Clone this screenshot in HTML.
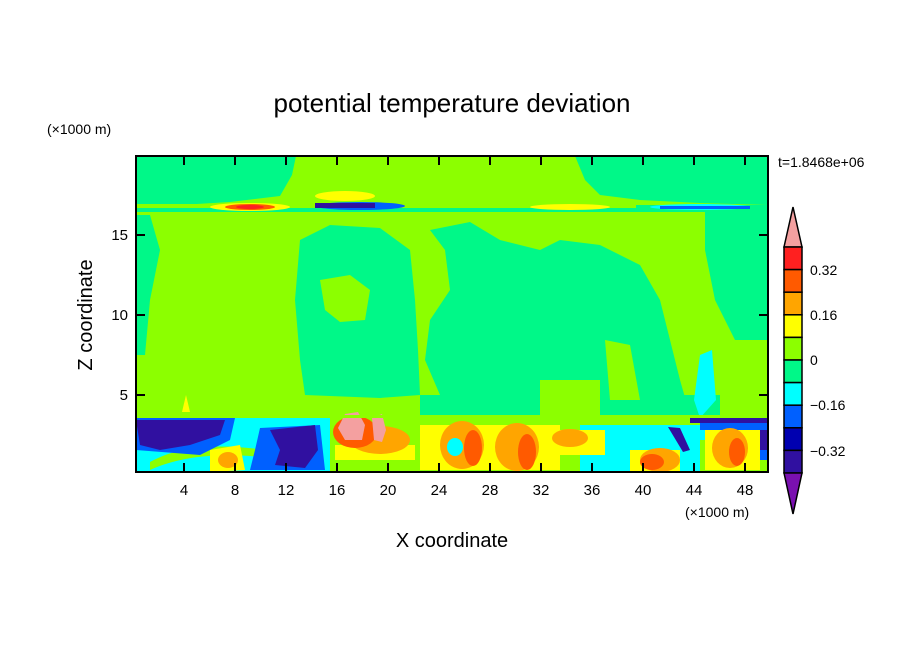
<!DOCTYPE html>
<html><head><style>
body{margin:0;background:#fff;}
svg text{font-family:"Liberation Sans",sans-serif;fill:#000;}
</style></head><body>
<svg width="904" height="654" viewBox="0 0 904 654" xmlns="http://www.w3.org/2000/svg">
<defs><clipPath id="c"><rect x="136" y="156" width="632" height="316"/></clipPath></defs>
<g clip-path="url(#c)">
<rect x="136" y="156" width="632" height="316" fill="#8cff00"/>
<g fill="#00f888">
<path d="M136 156 H296 L292 175 L280 196 L230 202 L180 205 H136Z"/>
<path d="M575 156 H768 V205 L700 203 L640 200 L600 195 L585 180Z"/>
<path d="M136 215 H150 L160 250 L150 300 L145 355 H136Z"/>
<path d="M300 240 L330 225 L380 228 L410 250 L415 300 L418 350 L420 395 L380 398 L330 396 L305 395 L300 360 L295 300Z"/>
<path d="M430 230 L470 222 L500 240 L540 250 L560 240 L600 245 L640 265 L660 300 L670 340 L680 380 L690 415 L560 415 L500 405 L440 395 L425 360 L430 320 L450 290 L445 250Z"/>
<path d="M420 395 H768 V418 H420Z"/>
<path d="M705 212 H768 V340 H735 L715 300 L705 250Z"/>
</g>
<g fill="#8cff00">
<path d="M320 280 L350 275 L370 290 L365 320 L340 322 L325 310Z"/>
<path d="M540 380 H600 V418 H540Z"/>
<path d="M605 340 L630 345 L640 400 L610 400Z"/>
<path d="M720 395 H768 V418 H720Z"/>
</g>
<path d="M700 355 L712 350 L716 400 L700 418 L694 400Z" fill="#00ffff"/>
<rect x="136" y="205" width="632" height="7" fill="#00f888"/>
<rect x="136" y="204" width="500" height="4" fill="#8cff00"/>
<ellipse cx="345" cy="196" rx="30" ry="5" fill="#ffff00"/>
<ellipse cx="250" cy="207" rx="40" ry="4" fill="#ffff00"/>
<ellipse cx="250" cy="207" rx="25" ry="3" fill="#ff5a00"/>
<ellipse cx="250" cy="207" rx="14" ry="2" fill="#ff2020"/>
<ellipse cx="360" cy="206" rx="45" ry="4" fill="#0060ff"/>
<rect x="315" y="203" width="60" height="5" fill="#3010a0"/>
<ellipse cx="570" cy="207" rx="40" ry="3" fill="#ffff00"/>
<ellipse cx="700" cy="207" rx="50" ry="3" fill="#00ffff"/>
<rect x="660" y="206" width="90" height="3" fill="#0060ff"/>
<!-- bottom layer -->
<rect x="136" y="418" width="632" height="54" fill="#8cff00"/>
<g fill="#00ffff">
<path d="M136 418 H330 V472 H136Z"/>
<path d="M580 425 H700 V472 H580Z"/>
<path d="M700 415 H768 V440 H700Z"/>
</g>
<path d="M150 462 C190 440 240 445 300 455 L300 462 C240 452 190 452 150 470Z" fill="#8cff00"/>
<g fill="#0060ff">
<path d="M136 418 H235 L230 440 L200 455 L136 450Z"/>
<path d="M260 428 L320 425 L325 470 L250 470 L255 450Z"/>
<path d="M700 415 H768 V430 H700Z"/>
<path d="M740 430 H768 V460 H745Z"/>
</g>
<g fill="#3010a0">
<path d="M136 420 H225 L220 435 L190 445 L160 450 L140 445Z"/>
<path d="M270 430 L315 425 L318 450 L305 468 L275 465 L280 450Z"/>
<path d="M668 427 L680 428 L690 450 L683 452Z"/>
<path d="M690 415 H768 V423 H690Z"/>
<path d="M755 430 H768 V450 H755Z"/>
</g>
<g fill="#ffff00">
<path d="M420 425 H560 V470 H420Z"/>
<path d="M560 430 H605 V455 H560Z"/>
<path d="M630 450 H680 V472 H630Z"/>
<path d="M705 430 H760 V470 H705Z"/>
<path d="M210 450 L240 445 L245 470 L210 472Z"/>
<path d="M335 445 H415 V460 H335Z"/>
</g>
<g fill="#ffa500">
<ellipse cx="462" cy="445" rx="22" ry="24"/>
<ellipse cx="517" cy="447" rx="22" ry="24"/>
<ellipse cx="570" cy="438" rx="18" ry="9"/>
<ellipse cx="660" cy="460" rx="20" ry="12"/>
<ellipse cx="730" cy="448" rx="18" ry="20"/>
<ellipse cx="228" cy="460" rx="10" ry="8"/>
<ellipse cx="380" cy="440" rx="30" ry="14"/>
</g>
<g fill="#ff5a00">
<ellipse cx="473" cy="448" rx="9" ry="18"/>
<ellipse cx="527" cy="452" rx="9" ry="18"/>
<ellipse cx="652" cy="462" rx="12" ry="8"/>
<ellipse cx="737" cy="452" rx="8" ry="14"/>
</g>
<g fill="#00ffff"><ellipse cx="455" cy="447" rx="8" ry="9"/></g>
<ellipse cx="355" cy="432" rx="22" ry="16" fill="#ff5a00"/>
<path d="M338 428 L345 414 L358 412 L365 425 L362 440 L345 440Z" fill="#f4a0a0"/>
<path d="M372 418 L382 414 L386 430 L382 442 L374 440Z" fill="#f4a0a0"/>
<rect x="136" y="415" width="632" height="3" fill="#8cff00"/>
<path d="M182 412 L186 395 L190 412Z" fill="#ffff00"/>
</g>
<rect x="136" y="156" width="632" height="316" fill="none" stroke="#000" stroke-width="2"/>
<g stroke="#000" stroke-width="2">
<path d="M184 472v-9M235 472v-9M286 472v-9M337 472v-9M388 472v-9M439 472v-9M490 472v-9M541 472v-9M592 472v-9M643 472v-9M694 472v-9M745 472v-9"/>
<path d="M136 395h9M136 315h9M136 235h9M768 395h-9M768 315h-9M768 235h-9"/>
<path d="M184 156v9M235 156v9M286 156v9M337 156v9M388 156v9M439 156v9M490 156v9M541 156v9M592 156v9M643 156v9M694 156v9M745 156v9"/>
</g>
<g font-size="15" text-anchor="middle">
<text x="184" y="495">4</text><text x="235" y="495">8</text><text x="286" y="495">12</text><text x="337" y="495">16</text><text x="388" y="495">20</text><text x="439" y="495">24</text><text x="490" y="495">28</text><text x="541" y="495">32</text><text x="592" y="495">36</text><text x="643" y="495">40</text><text x="694" y="495">44</text><text x="745" y="495">48</text>
</g>
<g font-size="15" text-anchor="end">
<text x="128" y="400">5</text><text x="128" y="320">10</text><text x="128" y="240">15</text>
</g>
<text x="452" y="112" font-size="26" text-anchor="middle">potential temperature deviation</text>
<text x="47" y="134" font-size="14">(×1000 m)</text>
<text x="685" y="517" font-size="14">(×1000 m)</text>
<text x="778" y="167" font-size="14">t=1.8468e+06</text>
<text x="452" y="547" font-size="20" text-anchor="middle">X coordinate</text>
<text transform="translate(92 315) rotate(-90)" font-size="20" text-anchor="middle">Z coordinate</text>
<g stroke="#000" stroke-width="1.5">
<path d="M784 247 L793 207 L802 247Z" fill="#f4a0a0"/>
<rect x="784" y="247" width="18" height="22.6" fill="#ff2020"/>
<rect x="784" y="269.6" width="18" height="22.6" fill="#ff5a00"/>
<rect x="784" y="292.2" width="18" height="22.6" fill="#ffa500"/>
<rect x="784" y="314.8" width="18" height="22.6" fill="#ffff00"/>
<rect x="784" y="337.4" width="18" height="22.6" fill="#8cff00"/>
<rect x="784" y="360" width="18" height="22.6" fill="#00f888"/>
<rect x="784" y="382.6" width="18" height="22.6" fill="#00ffff"/>
<rect x="784" y="405.2" width="18" height="22.6" fill="#0060ff"/>
<rect x="784" y="427.8" width="18" height="22.6" fill="#0000b0"/>
<rect x="784" y="450.4" width="18" height="22.6" fill="#3010a0"/>
<path d="M784 473 L793 514 L802 473Z" fill="#7a10b0"/>
</g>
<g font-size="14">
<text x="810" y="275">0.32</text><text x="810" y="320">0.16</text><text x="810" y="365">0</text><text x="810" y="410">−0.16</text><text x="810" y="456">−0.32</text>
</g>
</svg>
</body></html>
